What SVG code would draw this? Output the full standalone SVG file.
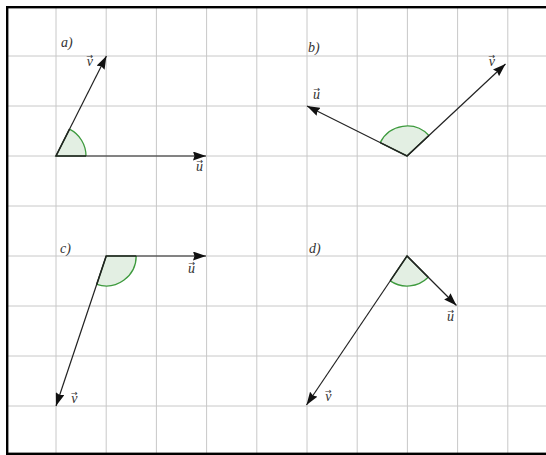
<svg xmlns="http://www.w3.org/2000/svg" width="546" height="455" viewBox="0 0 546 455">
<defs>
<style>
.grid line{stroke:#c8c8c8;stroke-width:1}
.vec{stroke:#222;stroke-width:1.2;fill:none;marker-end:url(#ah)}
.sector{fill:#e3efe3;stroke:none}
.arc{fill:none;stroke:#3d9a3d;stroke-width:1.3}
.rad{fill:none;stroke:#1f3a1f;stroke-width:1.6}
.lbl{font-family:"Liberation Serif","DejaVu Serif",serif;font-style:italic;font-size:14px;fill:#333}
.acc{font-family:"DejaVu Sans","Liberation Sans",sans-serif;font-style:normal;font-size:8px}
</style>
<marker id="ah" viewBox="0 0 13 9" refX="13" refY="4.5" markerWidth="13" markerHeight="9" markerUnits="userSpaceOnUse" orient="auto">
<path d="M0,0 L13,4.5 L0,9 L1.5,4.5 Z" fill="#111"/>
</marker>
</defs>
<rect width="546" height="455" fill="#fff"/>
<g class="grid">
<line x1="56" y1="8" x2="56" y2="453"/>
<line x1="106.2" y1="8" x2="106.2" y2="453"/>
<line x1="156.4" y1="8" x2="156.4" y2="453"/>
<line x1="206.6" y1="8" x2="206.6" y2="453"/>
<line x1="256.8" y1="8" x2="256.8" y2="453"/>
<line x1="307" y1="8" x2="307" y2="453"/>
<line x1="357.2" y1="8" x2="357.2" y2="453"/>
<line x1="407.4" y1="8" x2="407.4" y2="453"/>
<line x1="457.6" y1="8" x2="457.6" y2="453"/>
<line x1="507.8" y1="8" x2="507.8" y2="453"/>
<line x1="8" y1="56" x2="546" y2="56"/>
<line x1="8" y1="106" x2="546" y2="106"/>
<line x1="8" y1="156" x2="546" y2="156"/>
<line x1="8" y1="206" x2="546" y2="206"/>
<line x1="8" y1="256" x2="546" y2="256"/>
<line x1="8" y1="306" x2="546" y2="306"/>
<line x1="8" y1="356" x2="546" y2="356"/>
<line x1="8" y1="406" x2="546" y2="406"/>
</g>
<rect x="7.2" y="7.2" width="545" height="446.6" fill="none" stroke="#000" stroke-width="2.4"/>

<g id="panel-a">
<path class="sector" d="M56,156 L86,156 A30,30 0 0 0 69.5,129.2 Z"/>
<path class="arc" d="M86,156 A30,30 0 0 0 69.5,129.2"/>
<path class="rad" d="M86,156 L56,156 L69.5,129.2"/>
<text class="lbl" x="61" y="47">a)</text>
<text class="lbl" x="86.5" y="66">v<tspan class="acc" dx="-6.5" dy="-7.5">→</tspan></text>
<text class="lbl" x="196" y="171">u<tspan class="acc" dx="-6.5" dy="-7.5">→</tspan></text>
</g>
<g id="panel-b">
<path class="sector" d="M407,156 L380.2,142.6 A30,30 0 0 1 428.9,135.5 Z"/>
<path class="arc" d="M380.2,142.6 A30,30 0 0 1 428.9,135.5"/>
<path class="rad" d="M380.2,142.6 L407,156 L428.9,135.5"/>
<text class="lbl" x="308" y="52">b)</text>
<text class="lbl" x="313" y="99">u<tspan class="acc" dx="-6.5" dy="-7.5">→</tspan></text>
<text class="lbl" x="488.5" y="66">v<tspan class="acc" dx="-6.5" dy="-7.5">→</tspan></text>
</g>
<g id="panel-c">
<path class="sector" d="M106.2,256 L136.2,256 A30,30 0 0 1 96.7,284.4 Z"/>
<path class="arc" d="M136.2,256 A30,30 0 0 1 96.7,284.4"/>
<path class="rad" d="M136.2,256 L106.2,256 L96.7,284.4"/>
<text class="lbl" x="60" y="253">c)</text>
<text class="lbl" x="188" y="273">u<tspan class="acc" dx="-6.5" dy="-7.5">→</tspan></text>
<text class="lbl" x="71" y="403">v<tspan class="acc" dx="-6.5" dy="-7.5">→</tspan></text>
</g>
<g id="panel-d">
<path class="sector" d="M407,256 L428.2,277.2 A30,30 0 0 1 390.2,280.9 Z"/>
<path class="arc" d="M428.2,277.2 A30,30 0 0 1 390.2,280.9"/>
<path class="rad" d="M428.2,277.2 L407,256 L390.2,280.9"/>
<text class="lbl" x="309" y="253">d)</text>
<text class="lbl" x="447" y="321">u<tspan class="acc" dx="-6.5" dy="-7.5">→</tspan></text>
<text class="lbl" x="325" y="401">v<tspan class="acc" dx="-6.5" dy="-7.5">→</tspan></text>
</g>
<g id="connectors">
<path class="vec" d="M56,156 L206,156"/>
<path class="vec" d="M56,156 L106.4,56"/>
<path class="vec" d="M407,156 L307,106"/>
<path class="vec" d="M407,156 L505.5,64"/>
<path class="vec" d="M106.2,256 L206,256"/>
<path class="vec" d="M106.2,256 L56,406"/>
<path class="vec" d="M407,256 L456.5,305.5"/>
<path class="vec" d="M407,256 L306.5,405"/>
</g>
</svg>
